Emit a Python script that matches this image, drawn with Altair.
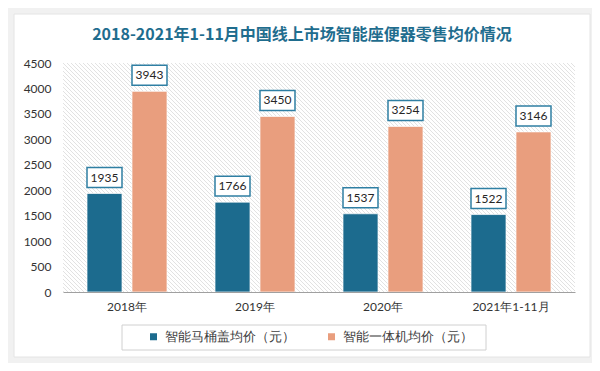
import altair as alt
import pandas as pd

# ---- data ----
years = ["2018年", "2019年", "2020年", "2021年1-11月"]
series_names = ["智能马桶盖均价（元）", "智能一体机均价（元）"]
lid_prices = [1935, 1766, 1537, 1522]
unit_prices = [3943, 3450, 3254, 3146]
y_ticks = [0, 500, 1000, 1500, 2000, 2500, 3000, 3500, 4000, 4500]
colors = ["#1c6b8e", "#e99e7e"]
title_text = "2018-2021年1-11月中国线上市场智能座便器零售均价情况"

rows = []
for i, yr in enumerate(years):
    rows.append({"year": yr, "series": series_names[0], "price": lid_prices[i]})
    rows.append({"year": yr, "series": series_names[1], "price": unit_prices[i]})
df = pd.DataFrame(rows)

W, H = 512, 229
FONT = "Lato"

# diagonal hatch background made as a gradient with hard stops
L = 524.0
period = 2.83
lw = 0.9
stops = []
k = 0
while k * period < L:
    s = k * period / L
    e = min((k * period + lw) / L, 1.0)
    stops += [
        alt.GradientStop(color="#e2e2e2", offset=s),
        alt.GradientStop(color="#e2e2e2", offset=e),
        alt.GradientStop(color="#ffffff", offset=e),
        alt.GradientStop(color="#ffffff", offset=min((k + 1) * period / L, 1.0)),
    ]
    k += 1
hatch_fill = alt.Gradient(gradient="linear", x1=0, y1=1, x2=1.206, y2=0.4606, stops=stops)

one = alt.Data(values=[{"title": title_text}])

card = alt.Chart(one).mark_rect(fill="#ffffff", stroke="#e4e4e4").encode(
    x=alt.value(-49), x2=alt.value(527), y=alt.value(-49), y2=alt.value(294)
)
hatch = alt.Chart(one).mark_rect(fill=hatch_fill).encode(
    x=alt.value(0), x2=alt.value(W), y=alt.value(0), y2=alt.value(H)
)
legend_box = alt.Chart(one).mark_rect(fill="#ffffff", stroke="#d0d0d0").encode(
    x=alt.value(59), x2=alt.value(423), y=alt.value(262), y2=alt.value(287)
)
title = alt.Chart(one).mark_text(font="Noto Sans CJK SC", fontSize=16, fontWeight="bold",
                                 color="#1f6d8e", align="center", baseline="middle").encode(
    x=alt.value(239), y=alt.value(-28), text="title:N"
)

base = alt.Chart(df).encode(
    x=alt.X("year:N", sort=years, title=None,
            scale=alt.Scale(paddingInner=0.375, paddingOuter=0.1875),
            axis=alt.Axis(labelAngle=0, ticks=False, domainColor="#a0a0a0",
                          labelPadding=9, labelFontSize=12, labelColor="#333333",
                          labelFont=FONT, zindex=1)),
    xOffset=alt.XOffset("series:N", sort=series_names,
                        scale=alt.Scale(paddingInner=0.222, paddingOuter=0)),
    y=alt.Y("price:Q", title=None,
            scale=alt.Scale(domain=[0, 4500]),
            axis=alt.Axis(values=y_ticks, format="d", grid=False, domain=False, ticks=False,
                          labelPadding=12, labelFontSize=12, labelColor="#333333",
                          labelFont=FONT, zindex=1)),
)

bars = base.mark_bar(stroke="#ffffff", strokeWidth=1, strokeOpacity=0.7).encode(
    color=alt.Color("series:N", sort=series_names,
                    scale=alt.Scale(domain=series_names, range=colors),
                    legend=alt.Legend(orient="none", legendX=84, legendY=267,
                                      direction="horizontal", title=None,
                                      symbolType="square", symbolSize=49,
                                      symbolStrokeWidth=0,
                                      labelFontSize=13, labelFont=FONT,
                                      labelColor="#404040", labelOffset=5,
                                      columnPadding=30, padding=0, zindex=1))
)

box_shape = "M-1,-0.571L1,-0.571L1,0.571L-1,0.571Z"
boxes = base.mark_point(shape=box_shape, size=1225, filled=True, fill="#ffffff",
                        stroke="#2f7fa3", strokeWidth=1.5, opacity=1,
                        yOffset=-16)
labels = base.mark_text(yOffset=-16, baseline="middle", fontSize=12, font=FONT,
                        color="#262626").encode(text=alt.Text("price:Q", format="d"))

chart = alt.layer(card, hatch, legend_box, title, bars, boxes, labels).properties(
    width=W, height=H,
    padding={"left": 55, "top": 55, "right": 17, "bottom": 71},
    autosize="none",
    background="#f1f1f1",
).configure_view(stroke=None)

chart.save("out.html", embed_options={"renderer": "svg", "actions": False})
